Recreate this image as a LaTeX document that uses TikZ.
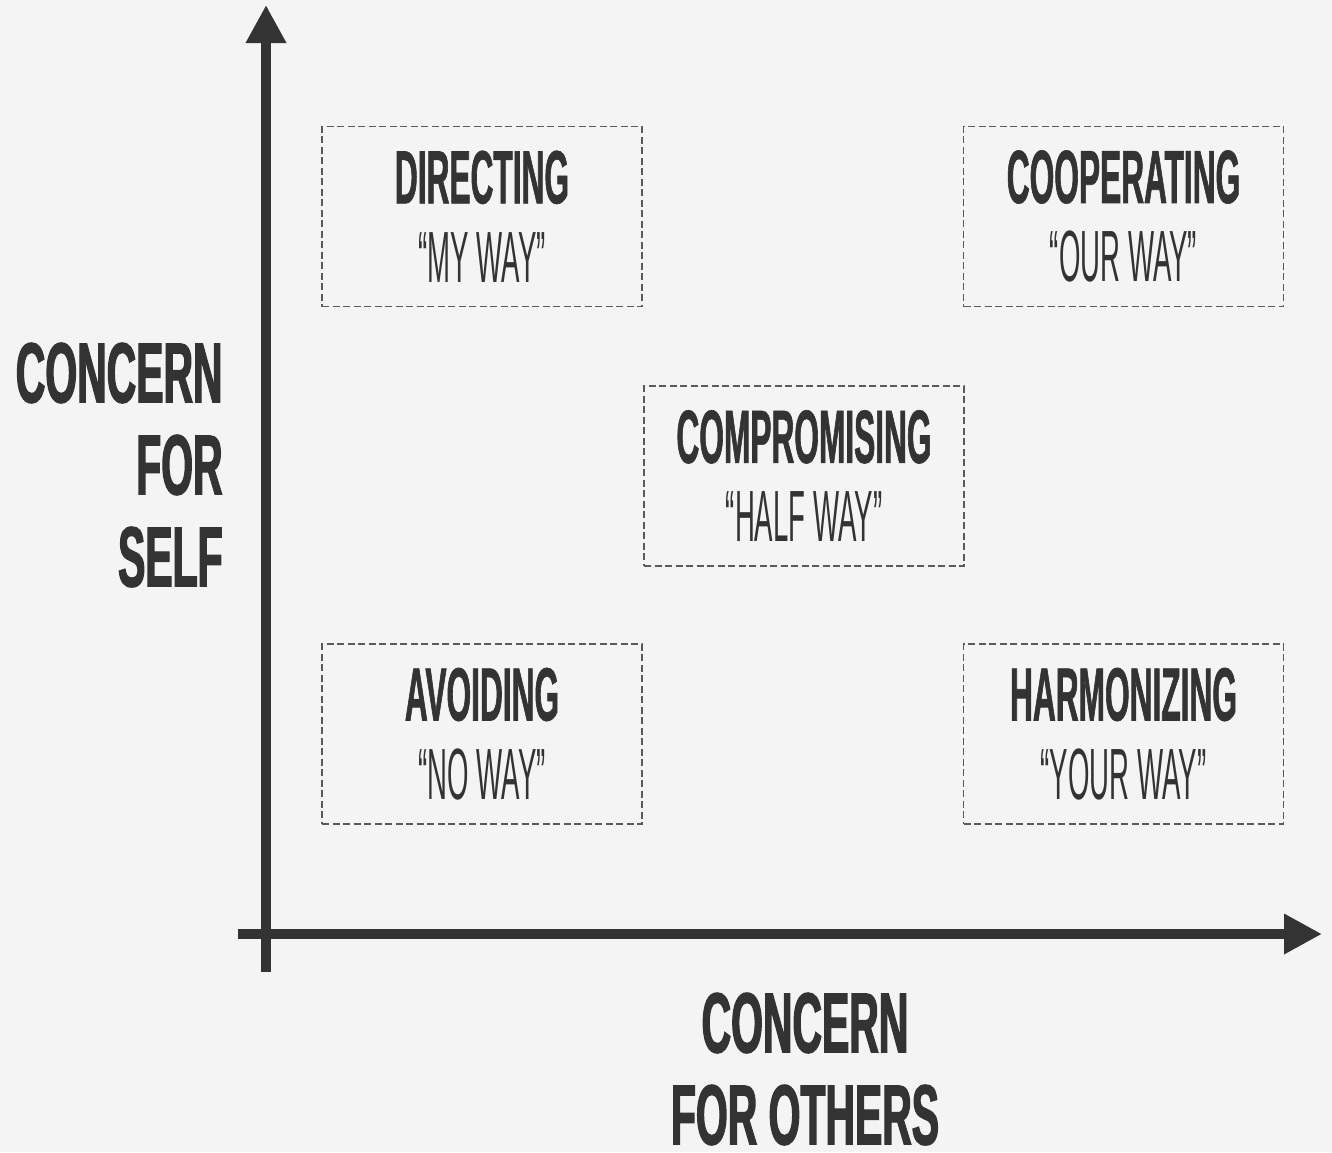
\documentclass[tikz,border=0pt]{standalone}
\usepackage{fontspec}
\setmainfont{Liberation Sans}
\newfontfamily\titlefont[FakeStretch=0.42, FakeBold=0.8]{Liberation Sans}
\newfontfamily\wayfont[FakeStretch=0.38]{Liberation Sans}
\newfontfamily\axisfont[FakeStretch=0.48, FakeBold=1.5]{Liberation Sans}
\usetikzlibrary{arrows.meta,positioning}
\definecolor{ink}{HTML}{333333}
\definecolor{paper}{HTML}{F4F4F4}
\definecolor{dashgray}{HTML}{5A5A5A}

\newcommand{\mode}[2]{{\titlefont\bfseries #1}\\{\wayfont\fontsize{36.3}{39.5}\selectfont #2}}

\begin{document}
\begin{tikzpicture}[
  x=0.5pt, y=-0.5pt,
  every node/.style={text=ink, inner sep=0pt},
  modebox/.style={draw=dashgray, line width=0.75pt, dash pattern=on 3.5pt off 1.75pt,
    minimum width=160pt, minimum height=90pt, align=center,
    font=\fontsize{37.7}{39.5}\selectfont},
  axis/.style={draw=ink, line width=5pt, -{Triangle[length=19pt, width=19pt]}},
  axislabel/.style={font=\axisfont\bfseries\fontsize{42.6}{46}\selectfont}
]
  % page
  \fill[paper] (0,0) rectangle (1332,1152);

  % axes
  \coordinate (ystart) at (266,972);
  \coordinate (yend) at (266,5);
  \coordinate (xstart) at (238,934);
  \coordinate (xend) at (1322,934);
  \draw[axis] (ystart) -- (yend);
  \draw[axis] (xstart) -- (xend);

  % the five styles
  \node[modebox] (directing) at (482,216.5) {\mode{DIRECTING}{“MY WAY”}};
  \node[modebox] (cooperating) at (1123.5,216.5) {\mode{COOPERATING}{“OUR WAY”}};
  \node[modebox] (compromising) at (804,476) {\mode{COMPROMISING}{“HALF WAY”}};
  \node[modebox] (avoiding) at (482,734) {\mode{AVOIDING}{“NO WAY”}};
  \node[modebox] (harmonizing) at (1123.5,734) {\mode{HARMONIZING}{“YOUR WAY”}};

  % axis labels
  \node[axislabel, align=right, anchor=east] (selflabel) at (223,465) {CONCERN\\FOR\\SELF};
  \node[axislabel, align=center] (otherslabel) at (805,1069) {CONCERN\\FOR OTHERS};
\end{tikzpicture}
\end{document}
